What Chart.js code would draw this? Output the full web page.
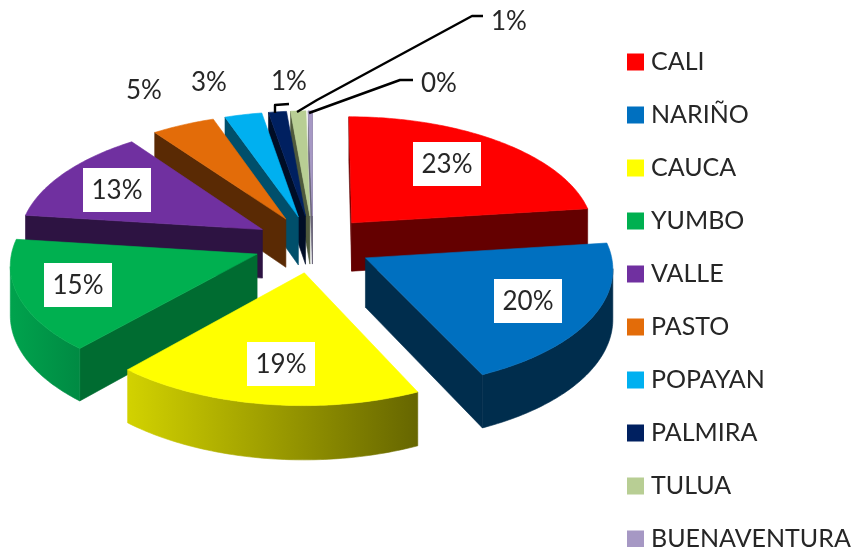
<!DOCTYPE html>
<html>
<head>
<meta charset="utf-8">
<style>html,body{margin:0;padding:0;background:#fff}canvas{display:block}</style>
<script src="https://cdn.jsdelivr.net/npm/chart.js@4"></script>
</head>
<body>
<canvas id="c" width="853" height="547"></canvas>
<script>
const categories = ['CALI','NARIÑO','CAUCA','YUMBO','VALLE','PASTO','POPAYAN','PALMIRA','TULUA','BUENAVENTURA'];
const shares = [23,20,18.6,15.4,13,4.6,2.7,1.3,1.1,0.3];
const topColors = ['#FF0000','#0070C0','#FFFF00','#00B050','#7030A0','#E36C09','#00B0F0','#002060','#B8CE94','#A698C4'];
const wallColors = ['#640000','#002D4D','#666600','#006C31','#2D1342','#5A2A04','#004F6B','#000D26','#4F5A3C','#6A6478'];
const rimGradients = [null,null,['#D2D200','#666600'],['#00A34D','#008A43'],null,null,null,null,null,null];
const drawOrder = [9,8,7,6,5,4,0,3,1,2];

// projection of the tilted pie plane
const view = {cx:313, cy:244, A:244, B:117.6, k:0.0784, depth:49, explode:0.243};
const labelFont = '26px Lato, "Open Sans", sans-serif';
const labelInk = '#262626';
const insideLabels = {0:[447,164],1:[528,301],2:[281,364],3:[78,285],4:[117,190]};
const outsideLabels = {5:[144,90],6:[209,82],7:[289,81],8:[509,21],9:[439,83]};
const leaders = [
  [[275,113],[275,105],[289,104]],
  [[297,112],[317,100],[472,16],[483,16]],
  [[309,113],[400,80],[413,80]]
];

function project(th, r, z, mid){
  const X = view.explode*Math.sin(mid) + r*Math.sin(th);
  const Y = -view.explode*Math.cos(mid) - r*Math.cos(th);
  const w = 1 - view.k*Y;
  return [view.cx + view.A*X/w, view.cy + (view.B*Y + view.depth*z)/w];
}
function poly(ctx, pts, fill){
  ctx.beginPath();
  pts.forEach((p,i)=> i ? ctx.lineTo(p[0],p[1]) : ctx.moveTo(p[0],p[1]));
  ctx.closePath();
  ctx.fillStyle = fill; ctx.strokeStyle = fill; ctx.lineWidth = 0.6; ctx.lineJoin='round';
  ctx.fill(); ctx.stroke();
}
function drawSlice(ctx, arc, i){
  const a = arc.startAngle + Math.PI/2, b = arc.endAngle + Math.PI/2, mid = (a+b)/2;
  const apexT = project(mid,0,0,mid), apexB = project(mid,0,1,mid);
  const inner = project(mid,0.5,0,mid);
  [a,b].forEach(th=>{
    const rimT = project(th,1,0,mid), rimB = project(th,1,1,mid);
    const ex = rimT[0]-apexT[0], ey = rimT[1]-apexT[1];
    const sDown = ex, sIn = ex*(inner[1]-apexT[1]) - ey*(inner[0]-apexT[0]);
    if (sDown*sIn < 0) poly(ctx,[apexT,rimT,rimB,apexB],wallColors[i]);
  });
  const steps = Math.max(4,Math.ceil((b-a)*60));
  const top = [], rimTop = [], rimBot = [];
  for(let s=0;s<=steps;s++){
    const th = a+(b-a)*s/steps;
    top.push(project(th,1,0,mid));
  }
  for(let s=0;s<steps;s++){
    const th0 = a+(b-a)*s/steps, th1 = a+(b-a)*(s+1)/steps;
    const p0 = project(th0,1,0,mid), p1 = project(th1,1,0,mid);
    if (p1[0] < p0[0]){
      if(!rimTop.length){ rimTop.push(p0); rimBot.push(project(th0,1,1,mid)); }
      rimTop.push(p1); rimBot.push(project(th1,1,1,mid));
    }
  }
  if (rimTop.length){
    let fill = wallColors[i];
    if (rimGradients[i]){
      const xs = rimTop.map(p=>p[0]);
      const g = ctx.createLinearGradient(Math.min(...xs),0,Math.max(...xs),0);
      g.addColorStop(0,rimGradients[i][0]); g.addColorStop(1,rimGradients[i][1]);
      fill = g;
    }
    poly(ctx, rimTop.concat(rimBot.slice().reverse()), fill);
  }
  poly(ctx,[apexT].concat(top),topColors[i]);
}

const pie3d = {
  id:'pie3d',
  afterLayout(chart){
    const lg = chart.legend;
    lg.maxHeight = 800;
    lg.fit();
    const pad = lg.options.labels.padding;
    lg.left = 632.5 - pad; lg.right = lg.left + lg.width;
    lg.top = 49.5 - pad; lg.bottom = lg.top + lg.height;
  },
  beforeDatasetsDraw(chart){
    const ctx = chart.ctx, arcs = chart.getDatasetMeta(0).data;
    ctx.save();
    drawOrder.forEach(i=>drawSlice(ctx,arcs[i],i));
    ctx.restore();
    ctx.save();
    ctx.strokeStyle='#000'; ctx.lineWidth=2.4; ctx.lineJoin='round';
    leaders.forEach(l=>{
      ctx.beginPath();
      l.forEach((p,i)=> i?ctx.lineTo(p[0],p[1]):ctx.moveTo(p[0],p[1]));
      ctx.stroke();
    });
    const total = shares.reduce((s,v)=>s+v,0);
    ctx.font = labelFont; ctx.textAlign='center'; ctx.textBaseline='middle';
    shares.forEach((v,i)=>{
      const txt = Math.round(v/total*100)+'%';
      const inside = insideLabels[i], pos = inside || outsideLabels[i];
      if (inside){ ctx.fillStyle='#fff'; ctx.fillRect(pos[0]-34,pos[1]-22,68,44); }
      ctx.fillStyle = labelInk;
      ctx.fillText(txt,pos[0],pos[1]+1);
    });
    ctx.restore();
    return false;
  }
};

new Chart(document.getElementById('c'),{
  type:'pie',
  data:{labels:categories,datasets:[{data:shares,backgroundColor:topColors,borderWidth:0}]},
  options:{
    responsive:false,animation:false,
    plugins:{
      tooltip:{enabled:false},
      legend:{
        display:true,position:'right',align:'start',
        labels:{
          color:labelInk,padding:28,boxWidth:6,boxHeight:6,
          font:{family:'Lato, "Open Sans", sans-serif',size:25},
          generateLabels(chart){
            return categories.map((t,i)=>({text:t,fillStyle:topColors[i],strokeStyle:topColors[i],lineWidth:11,fontColor:labelInk,hidden:false,index:i,lineJoin:'miter'}));
          }
        }
      }
    }
  },
  plugins:[pie3d]
});
</script>
</body>
</html>
